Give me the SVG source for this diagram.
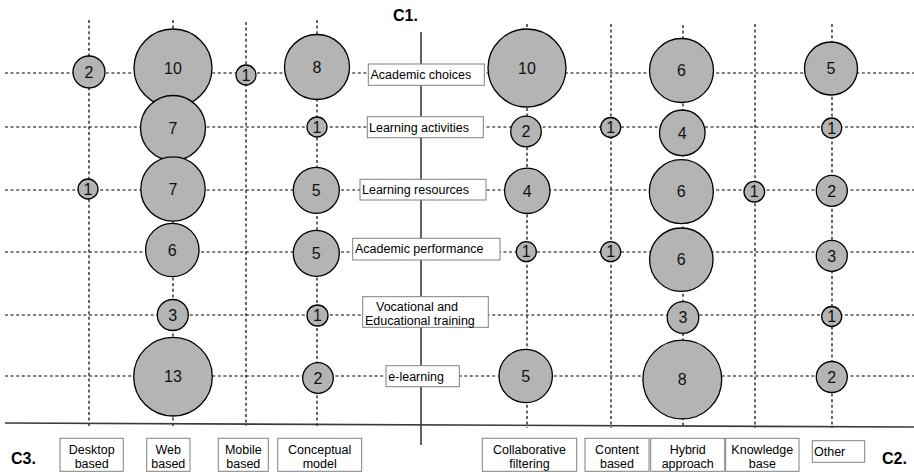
<svg xmlns="http://www.w3.org/2000/svg" width="914" height="473" viewBox="0 0 914 473">
<style>
.grid{stroke:#000;stroke-width:1.2;stroke-dasharray:3 2.6;fill:none}
.axis{stroke:#3a3a3a;stroke-width:1.6;fill:none}
.bub circle{fill:#b4b4b4;stroke:#000;stroke-width:1.3}
.bub text{font-family:"Liberation Sans",Arial,sans-serif;font-size:16px;text-anchor:middle;fill:#111}
.lab rect{fill:#fff;stroke:#808080;stroke-width:1}
.lab text{font-family:"Liberation Sans",Arial,sans-serif;font-size:12.5px;fill:#000}
.cat rect{fill:#fff;stroke:#808080;stroke-width:1}
.cat text{font-family:"Liberation Sans",Arial,sans-serif;font-size:12.5px;fill:#000;text-anchor:middle}
.ax text{font-family:"Liberation Sans",Arial,sans-serif;font-size:16px;font-weight:bold;fill:#000}
</style>
<rect width="914" height="473" fill="#fff"/>
<g id="connectors">
<line class="grid" x1="5" y1="73" x2="914" y2="73"/>
<line class="grid" x1="5" y1="127" x2="914" y2="127"/>
<line class="grid" x1="5" y1="190" x2="914" y2="190"/>
<line class="grid" x1="5" y1="252" x2="914" y2="252"/>
<line class="grid" x1="5" y1="315" x2="914" y2="315"/>
<line class="grid" x1="5" y1="376" x2="914" y2="376"/>
<line class="grid" x1="89" y1="20" x2="89" y2="426"/>
<line class="grid" x1="173" y1="20" x2="173" y2="426"/>
<line class="grid" x1="246" y1="22" x2="246" y2="426"/>
<line class="grid" x1="317" y1="20" x2="317" y2="426"/>
<line class="grid" x1="527" y1="24" x2="527" y2="428"/>
<line class="grid" x1="611" y1="24" x2="611" y2="428"/>
<line class="grid" x1="683" y1="25" x2="683" y2="428"/>
<line class="grid" x1="755" y1="24" x2="755" y2="428"/>
<line class="grid" x1="832" y1="24" x2="832" y2="428"/>
<line class="axis" x1="421" y1="32" x2="421" y2="445"/>
<line class="axis" x1="5" y1="423" x2="914" y2="427"/>
</g>
<g id="axis-labels" class="ax">
<text x="393" y="21">C1.</text>
<text x="11" y="464">C3.</text>
<text x="882" y="464">C2.</text>
</g>
<g id="bubbles" class="bub">
<g id="b-r1-desktop"><circle cx="89" cy="72" r="16"/><text x="89" y="72" dy="0.36em">2</text></g>
<g id="b-r1-web"><circle cx="173" cy="68" r="39"/><text x="173" y="68" dy="0.36em">10</text></g>
<g id="b-r1-mobile"><circle cx="246" cy="75" r="10"/><text x="246" y="75" dy="0.36em">1</text></g>
<g id="b-r1-concept"><circle cx="317" cy="67" r="32.5"/><text x="317" y="67" dy="0.36em">8</text></g>
<g id="b-r1-collab"><circle cx="527" cy="68" r="39"/><text x="527" y="68" dy="0.36em">10</text></g>
<g id="b-r1-hybrid"><circle cx="681.5" cy="70.5" r="32"/><text x="681.5" y="70.5" dy="0.36em">6</text></g>
<g id="b-r1-other"><circle cx="831" cy="68.5" r="26.5"/><text x="831" y="68.5" dy="0.36em">5</text></g>

<g id="b-r2-web"><circle cx="173" cy="128" r="32.5"/><text x="173" y="128" dy="0.36em">7</text></g>
<g id="b-r2-concept"><circle cx="317" cy="127" r="10"/><text x="317" y="127" dy="0.36em">1</text></g>
<g id="b-r2-collab"><circle cx="526" cy="131.5" r="15.3"/><text x="526" y="131.5" dy="0.36em">2</text></g>
<g id="b-r2-content"><circle cx="610.7" cy="127.5" r="10"/><text x="610.7" y="127.5" dy="0.36em">1</text></g>
<g id="b-r2-hybrid"><circle cx="682.3" cy="132.8" r="22.8"/><text x="682.3" y="132.8" dy="0.36em">4</text></g>
<g id="b-r2-other"><circle cx="831.7" cy="128" r="10"/><text x="831.7" y="128" dy="0.36em">1</text></g>

<g id="b-r3-desktop"><circle cx="88" cy="189" r="10"/><text x="88" y="189" dy="0.36em">1</text></g>
<g id="b-r3-web"><circle cx="173" cy="189" r="32.2"/><text x="173" y="189" dy="0.36em">7</text></g>
<g id="b-r3-concept"><circle cx="316.3" cy="190.3" r="23"/><text x="316.3" y="190.3" dy="0.36em">5</text></g>
<g id="b-r3-collab"><circle cx="527.3" cy="190.8" r="22.7"/><text x="527.3" y="190.8" dy="0.36em">4</text></g>
<g id="b-r3-hybrid"><circle cx="681.3" cy="191.7" r="32"/><text x="681.3" y="191.7" dy="0.36em">6</text></g>
<g id="b-r3-knowledge"><circle cx="754.3" cy="191.7" r="10.3"/><text x="754.3" y="191.7" dy="0.36em">1</text></g>
<g id="b-r3-other"><circle cx="831.8" cy="190.8" r="15.5"/><text x="831.8" y="190.8" dy="0.36em">2</text></g>

<g id="b-r4-web"><circle cx="172.3" cy="250" r="26.7"/><text x="172.3" y="250" dy="0.36em">6</text></g>
<g id="b-r4-concept"><circle cx="316.3" cy="253.3" r="23"/><text x="316.3" y="253.3" dy="0.36em">5</text></g>
<g id="b-r4-collab"><circle cx="526.3" cy="251.7" r="10"/><text x="526.3" y="251.7" dy="0.36em">1</text></g>
<g id="b-r4-content"><circle cx="610.7" cy="251.7" r="10"/><text x="610.7" y="251.7" dy="0.36em">1</text></g>
<g id="b-r4-hybrid"><circle cx="681.3" cy="259.7" r="31.7"/><text x="681.3" y="259.7" dy="0.36em">6</text></g>
<g id="b-r4-other"><circle cx="831.8" cy="255.8" r="15.5"/><text x="831.8" y="255.8" dy="0.36em">3</text></g>

<g id="b-r5-web"><circle cx="172.8" cy="315" r="15.5"/><text x="172.8" y="315" dy="0.36em">3</text></g>
<g id="b-r5-concept"><circle cx="317.5" cy="315.5" r="10.5"/><text x="317.5" y="315.5" dy="0.36em">1</text></g>
<g id="b-r5-hybrid"><circle cx="683" cy="317.5" r="15.8"/><text x="683" y="317.5" dy="0.36em">3</text></g>
<g id="b-r5-other"><circle cx="831.7" cy="316.5" r="10"/><text x="831.7" y="316.5" dy="0.36em">1</text></g>

<g id="b-r6-web"><circle cx="173" cy="376.7" r="39.3"/><text x="173" y="376.7" dy="0.36em">13</text></g>
<g id="b-r6-concept"><circle cx="318" cy="378" r="15.3"/><text x="318" y="378" dy="0.36em">2</text></g>
<g id="b-r6-collab"><circle cx="525.7" cy="376" r="26.7"/><text x="525.7" y="376" dy="0.36em">5</text></g>
<g id="b-r6-hybrid"><circle cx="682.3" cy="379.5" r="39.4"/><text x="682.3" y="379.5" dy="0.36em">8</text></g>
<g id="b-r6-other"><circle cx="831.8" cy="377" r="15.5"/><text x="831.8" y="377" dy="0.36em">2</text></g>
</g>
<g id="c1-labels" class="lab">
<g id="l-academic-choices"><rect x="368.3" y="64" width="116" height="21.3"/><text x="370.5" y="79">Academic choices</text></g>
<g id="l-learning-activities"><rect x="367.3" y="116.7" width="116" height="21"/><text x="369" y="131.5">Learning activities</text></g>
<g id="l-learning-resources"><rect x="360" y="179.3" width="126" height="20.7"/><text x="362" y="194">Learning resources</text></g>
<g id="l-academic-performance"><rect x="352.7" y="238.3" width="147.3" height="21.7"/><text x="355" y="253">Academic performance</text></g>
<g id="l-vocational"><rect x="362.7" y="296.7" width="125.6" height="30.6"/><text x="376" y="310.5">Vocational and</text><text x="365" y="325">Educational training</text></g>
<g id="l-elearning"><rect x="386" y="365.7" width="73.3" height="21"/><text x="388.3" y="380.5">e-learning</text></g>
</g>
<g id="c3-labels" class="cat">
<g id="c-desktop"><rect x="60" y="438.3" width="63.3" height="33"/><text x="91.7" y="453.5">Desktop</text><text x="91.7" y="467.5">based</text></g>
<g id="c-web"><rect x="146.7" y="438.3" width="43.3" height="33"/><text x="168.3" y="453.5">Web</text><text x="168.3" y="467.5">based</text></g>
<g id="c-mobile"><rect x="218.3" y="438.3" width="50" height="33"/><text x="243.3" y="453.5">Mobile</text><text x="243.3" y="467.5">based</text></g>
<g id="c-conceptual"><rect x="277.7" y="438.3" width="84" height="33"/><text x="319.7" y="453.5">Conceptual</text><text x="319.7" y="467.5">model</text></g>
</g>
<g id="c2-labels" class="cat">
<g id="c-collab"><rect x="482.3" y="438.3" width="94.4" height="33"/><text x="529.5" y="453.5">Collaborative</text><text x="529.5" y="467.5">filtering</text></g>
<g id="c-content"><rect x="585" y="438.3" width="64" height="33"/><text x="617" y="453.5">Content</text><text x="617" y="467.5">based</text></g>
<g id="c-hybrid"><rect x="650.7" y="438.3" width="74" height="33"/><text x="687.7" y="453.5">Hybrid</text><text x="687.7" y="467.5">approach</text></g>
<g id="c-knowledge"><rect x="725.7" y="438.3" width="73.3" height="33"/><text x="762.3" y="453.5">Knowledge</text><text x="762.3" y="467.5">base</text></g>
<g id="c-other"><rect x="812.3" y="440.7" width="52.4" height="21.6"/><text x="814" y="455.5" style="text-anchor:start">Other</text></g>
</g>
</svg>
